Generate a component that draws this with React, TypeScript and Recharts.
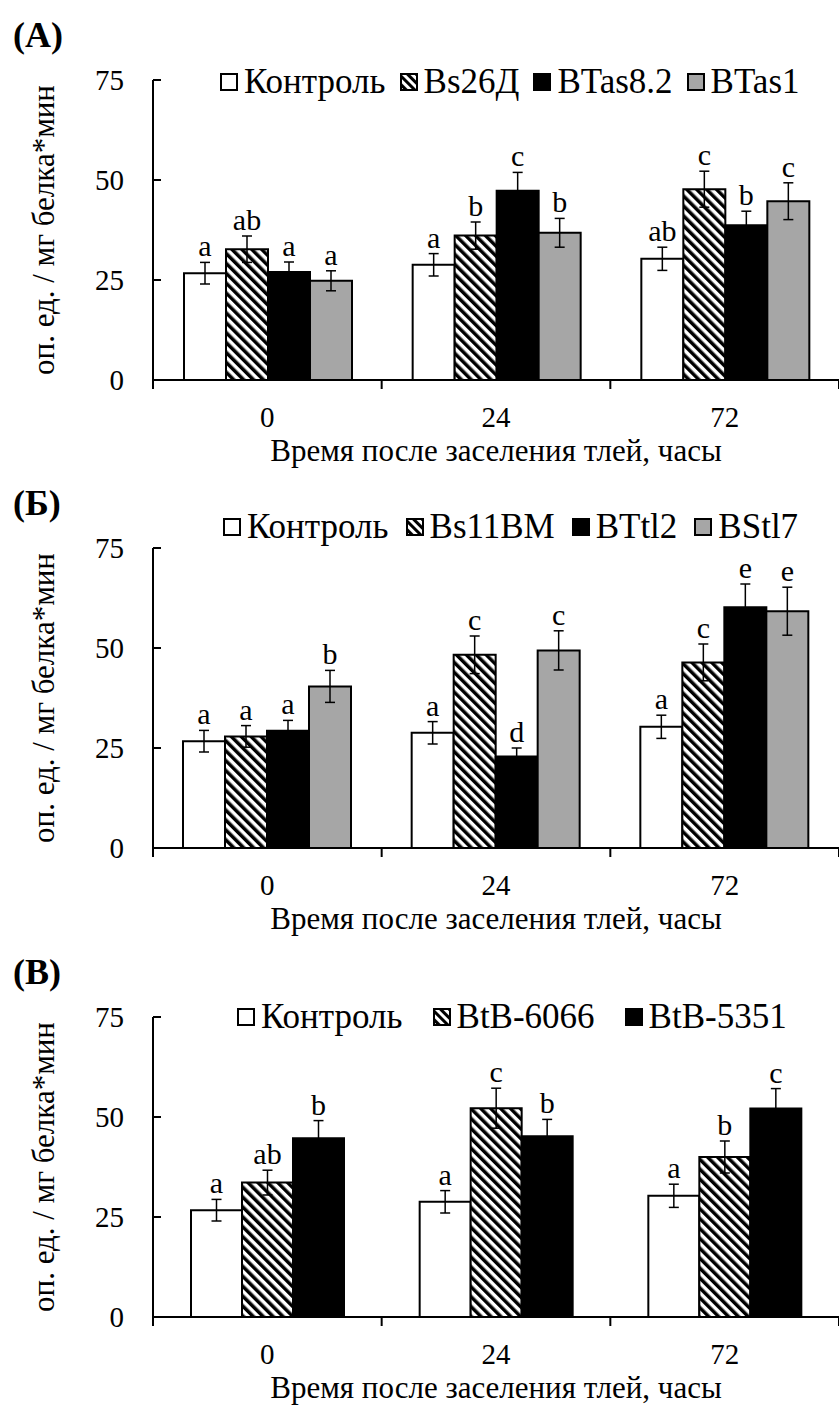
import React from "react";
import { Bar, BarChart, ErrorBar, Label, LabelList, XAxis, YAxis } from "recharts";

const FONT = "'Liberation Serif', 'Times New Roman', serif";

const timePoints = ["0", "24", "72"];
const yTicks = [0, 25, 50, 75];

// контроль — одинаковый во всех трёх панелях
const controlMean = [26.7, 28.8, 30.3];
const controlErr = [2.7, 2.8, 2.9];

// (А)
const controlLettersA = ["a", "a", "ab"];
const bs26Mean = [32.7, 36.1, 47.7];
const bs26Err = [3.3, 3.4, 4.5];
const bs26Letters = ["ab", "b", "c"];
const btas82Mean = [27.0, 47.3, 38.7];
const btas82Err = [2.5, 4.6, 3.5];
const btas82Letters = ["a", "c", "b"];
const btas1Mean = [24.8, 36.8, 44.7];
const btas1Err = [2.5, 3.6, 4.6];
const btas1Letters = ["a", "b", "c"];

// (Б)
const controlLettersB = ["a", "a", "a"];
const bs11Mean = [27.9, 48.3, 46.4];
const bs11Err = [2.7, 4.7, 4.6];
const bs11Letters = ["a", "c", "c"];
const bttl2Mean = [29.3, 22.9, 60.2];
const bttl2Err = [2.6, 2.1, 5.8];
const bttl2Letters = ["a", "d", "e"];
const bstl7Mean = [40.4, 49.4, 59.2];
const bstl7Err = [4.0, 4.9, 6.0];
const bstl7Letters = ["b", "c", "e"];

// (В)
const controlLettersC = ["a", "a", "a"];
const btb6066Mean = [33.6, 52.2, 40.0];
const btb6066Err = [3.1, 5.0, 4.0];
const btb6066Letters = ["ab", "c", "b"];
const btb5351Mean = [44.7, 45.2, 52.1];
const btb5351Err = [4.4, 4.2, 5.0];
const btb5351Letters = ["b", "b", "c"];

const WHITE = "#ffffff";
const BLACK = "#000000";
const GREY = "#a6a6a6";
const HATCH = "hatch";

interface Series {
  name: string;
  mean: number[];
  err: number[];
  letters: string[];
  fill: string;
}

const seriesA: Series[] = [
  { name: "Контроль", mean: controlMean, err: controlErr, letters: controlLettersA, fill: WHITE },
  { name: "Bs26Д", mean: bs26Mean, err: bs26Err, letters: bs26Letters, fill: HATCH },
  { name: "BTas8.2", mean: btas82Mean, err: btas82Err, letters: btas82Letters, fill: BLACK },
  { name: "BTas1", mean: btas1Mean, err: btas1Err, letters: btas1Letters, fill: GREY },
];

const seriesB: Series[] = [
  { name: "Контроль", mean: controlMean, err: controlErr, letters: controlLettersB, fill: WHITE },
  { name: "Bs11BM", mean: bs11Mean, err: bs11Err, letters: bs11Letters, fill: HATCH },
  { name: "BTtl2", mean: bttl2Mean, err: bttl2Err, letters: bttl2Letters, fill: BLACK },
  { name: "BStl7", mean: bstl7Mean, err: bstl7Err, letters: bstl7Letters, fill: GREY },
];

const seriesC: Series[] = [
  { name: "Контроль", mean: controlMean, err: controlErr, letters: controlLettersC, fill: WHITE },
  { name: "BtB-6066", mean: btb6066Mean, err: btb6066Err, letters: btb6066Letters, fill: HATCH },
  { name: "BtB-5351", mean: btb5351Mean, err: btb5351Err, letters: btb5351Letters, fill: BLACK },
];

function buildRows(series: Series[]) {
  return timePoints.map((t, i) => {
    const row: Record<string, string | number> = { time: t };
    series.forEach((s, j) => {
      row[`v${j}`] = s.mean[i];
      row[`e${j}`] = s.err[i];
      row[`l${j}`] = s.letters[i];
    });
    return row;
  });
}

const letterLabel = (rows: Record<string, any>[], j: number) => (props: any) => {
  const vb = props.viewBox || {};
  const x = props.x ?? vb.x;
  const y = props.y ?? vb.y;
  const width = props.width ?? vb.width;
  const height = props.height ?? vb.height;
  const row = rows[props.index];
  if (!row) return null;
  const pxPerUnit = height / row[`v${j}`];
  const top = y - row[`e${j}`] * pxPerUnit;
  return (
    <text x={x + width / 2} y={top - 6} textAnchor="middle" fontSize={30} fontFamily={FONT} fill="#000">
      {row[`l${j}`]}
    </text>
  );
};

// подпись категории + засечки на границах категорий
const TimeTick = (props: any) => {
  const { x, y, payload, index, visibleTicksCount } = props;
  const half = payload.offset ?? 0;
  const isLast = index === visibleTicksCount - 1;
  return (
    <g>
      <line x1={x - half} x2={x - half} y1={y} y2={y + 9} stroke="#000" strokeWidth={2} />
      {isLast && <line x1={x + half} x2={x + half} y1={y} y2={y + 9} stroke="#000" strokeWidth={2} />}
      <text x={x} y={y + 26} dy="0.71em" textAnchor="middle" fontSize={29} fontFamily={FONT} fill="#000">
        {payload.value}
      </text>
    </g>
  );
};

const XTitle = (props: any) => {
  const { x, y, width } = props.viewBox;
  return (
    <text x={x + width / 2} y={y + 81} textAnchor="middle" fontSize={31} fontFamily={FONT} fill="#000">
      Время после заселения тлей, часы
    </text>
  );
};

const YTitle = (props: any) => {
  const { y, height } = props.viewBox;
  const cy = y + height / 2;
  return (
    <text
      x={54}
      y={cy}
      transform={`rotate(-90, 54, ${cy})`}
      textAnchor="middle"
      fontSize={31}
      fontFamily={FONT}
      fill="#000"
    >
      оп. ед. / мг белка*мин
    </text>
  );
};

function Swatch({ fill, id }: { fill: string; id: string }) {
  const pid = `sw-${id}`;
  return (
    <svg width={18} height={18} style={{ display: "block" }}>
      <defs>
        <pattern id={pid} patternUnits="userSpaceOnUse" width={6} height={6} patternTransform="rotate(-45 9 9)">
          <rect width={6} height={6} fill="#fff" />
          <rect width={3} height={6} fill="#000" />
        </pattern>
      </defs>
      <rect x={1} y={1} width={16} height={16} fill={fill === HATCH ? `url(#${pid})` : fill} stroke="#000" strokeWidth={2} />
    </svg>
  );
}

interface PanelProps {
  id: string;
  tag: string;
  top: number;
  series: Series[];
  categoryGap: number;
  legendLeft: number;
  legendCenter: number;
  legendGap: number;
}

function Panel({ id, tag, top, series, categoryGap, legendLeft, legendCenter, legendGap }: PanelProps) {
  const rows = buildRows(series);
  const hatchId = `hatch-${id}`;
  const axisStroke = { stroke: "#000", strokeWidth: 2 };

  return (
    <div style={{ position: "absolute", left: 0, top, width: 839, height: 468 }}>
      <BarChart
        width={839}
        height={468}
        data={rows}
        margin={{ top: 80, right: 0, bottom: 0, left: 0 }}
        barGap={0}
        barCategoryGap={categoryGap}
      >
        <defs>
          <pattern id={hatchId} patternUnits="userSpaceOnUse" width={7} height={7} patternTransform="rotate(-45)">
            <rect width={7} height={7} fill="#fff" />
            <rect width={3.5} height={7} fill="#000" />
          </pattern>
        </defs>
        <XAxis
          dataKey="time"
          height={88}
          interval={0}
          tickLine={false}
          axisLine={axisStroke}
          tickSize={0}
          tickMargin={0}
          tick={<TimeTick />}
        >
          <Label content={XTitle} />
        </XAxis>
        <YAxis
          width={153}
          domain={[0, 75]}
          ticks={yTicks}
          interval={0}
          tickSize={-8}
          tickMargin={37}
          tickLine={axisStroke}
          axisLine={axisStroke}
          tick={{ fontSize: 29, fill: "#000", fontFamily: FONT }}
        >
          <Label content={YTitle} />
        </YAxis>
        {series.map((s, j) => (
          <Bar
            key={s.name}
            dataKey={`v${j}`}
            name={s.name}
            fill={s.fill === HATCH ? `url(#${hatchId})` : s.fill}
            stroke="#000"
            strokeWidth={2}
            isAnimationActive={false}
          >
            <ErrorBar dataKey={`e${j}`} width={5} stroke="#000" strokeWidth={1.5} direction="y" />
            <LabelList dataKey={`l${j}`} content={letterLabel(rows, j)} />
          </Bar>
        ))}
      </BarChart>

      <div
        style={{
          position: "absolute",
          left: 13,
          top: 16,
          lineHeight: "38px",
          fontSize: 36,
          fontWeight: "bold",
          fontFamily: FONT,
        }}
      >
        {tag}
      </div>

      <div
        style={{
          position: "absolute",
          left: legendLeft,
          top: legendCenter - 19,
          height: 38,
          display: "flex",
          alignItems: "center",
          gap: legendGap,
          fontSize: 35,
          lineHeight: "38px",
          fontFamily: FONT,
          whiteSpace: "nowrap",
        }}
      >
        {series.map((s, j) => (
          <div key={s.name} style={{ display: "flex", alignItems: "center", gap: 6 }}>
            <Swatch fill={s.fill} id={`${id}-${j}`} />
            <span>{s.name}</span>
          </div>
        ))}
      </div>
    </div>
  );
}

export default function App() {
  return (
    <div style={{ position: "relative", width: 839, height: 1405, background: "#fff" }}>
      <style>{`body{margin:0;background:#fff}`}</style>
      <Panel id="a" tag="(А)" top={0} series={seriesA} categoryGap={31} legendLeft={220} legendCenter={82} legendGap={14} />
      <Panel id="b" tag="(Б)" top={468} series={seriesB} categoryGap={30} legendLeft={223} legendCenter={59} legendGap={17} />
      <Panel id="c" tag="(В)" top={937} series={seriesC} categoryGap={38} legendLeft={237} legendCenter={80} legendGap={30} />
    </div>
  );
}
